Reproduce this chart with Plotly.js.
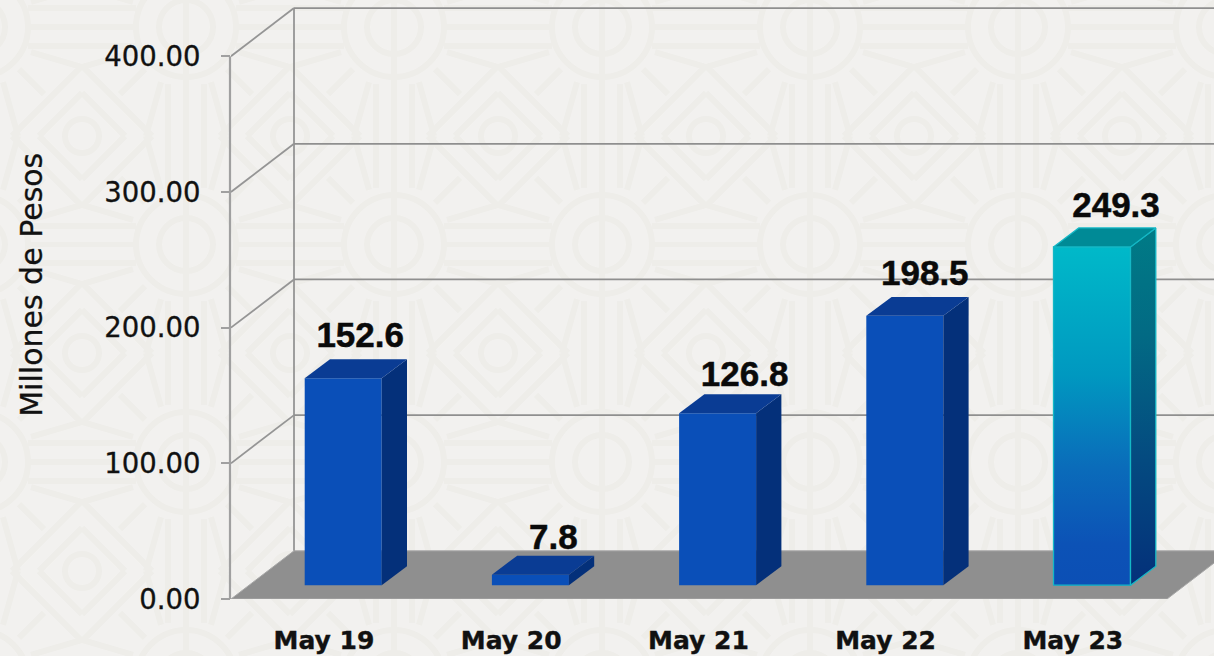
<!DOCTYPE html>
<html>
<head>
<meta charset="utf-8">
<script src="https://cdn.plot.ly/plotly-3.0.1.min.js"></script>
<style>
html,body{margin:0;padding:0;width:1214px;height:656px;overflow:hidden;background-color:#f2f1ef}
#chart{width:1214px;height:656px}
#chart .textpoint text{stroke:#0a0a0a;stroke-width:0.5px}
#chart .xtick text{stroke:#111111;stroke-width:0.4px}
#chart .ytick text{stroke:#111111;stroke-width:0.3px}
#chart .annotation-text{stroke:#111111;stroke-width:0.3px}
</style>
</head>
<body>
<div id="chart"></div>
<script>
// ---- data ----
var categories = ['May 19', 'May 20', 'May 21', 'May 22', 'May 23'];
var values = [152.6, 7.8, 126.8, 198.5, 249.3];
var yTicks = [0, 100, 200, 300, 400];
var yTitle = 'Millones de Pesos';

// ---- geometry, in axis units ----
var pxX = 187.2, pxY = 1.358;
var marginL = 231, plotW = 983, plotH = 599.5;
var xMin = -(324 - marginL) / pxX, xMax = xMin + plotW / pxX;
var wallDX = 63 / pxX, wallDY = 48.2 / pxY;
var barShift = 19.2 / pxX, barW = 77 / pxX, barBase = 13.8 / pxY;
var sideDX = 25.3 / pxX, sideDY = 19 / pxY;
var labelDX = [17, 23, 27, 20, 24], labelDY = [39.3, 35.6, 36.3, 39.3, 38.5];
var hero = 4;

// ---- background ornament ----
function ornament() {
  var W = 208, H = 217.5, out = [];
  function mirror(pts) {
    [[1,1],[-1,1],[1,-1],[-1,-1]].forEach(function (s) {
      var p = pts.map(function (q) {
        return (s[0] > 0 ? q[0] : W - q[0]) + ',' + (s[1] > 0 ? q[1] : H - q[1]);
      }).join(' ');
      out.push('<polyline points="' + p + '"/>');
    });
  }
  [[0,0],[W,0],[0,H],[W,H]].forEach(function (c) {
    out.push('<circle cx="' + c[0] + '" cy="' + c[1] + '" r="50"/>');
    out.push('<circle cx="' + c[0] + '" cy="' + c[1] + '" r="27"/>');
  });
  mirror([[0,0],[0,H/2]]);                 // central column
  mirror([[18,57],[18,H/2]]);              // column side lines
  mirror([[25,55],[40,H/2]]);              // slanted rays
  mirror([[50,0],[W/2,0]]);                // horizontal band
  mirror([[50,19],[W/2,19]]);
  mirror([[53,25],[W/2,40]]);              // V to diamond
  mirror([[41,42],[66,67]]);               // short diagonals
  mirror([[W/2-70,H/2],[W/2,H/2-70]]);     // outer diamond
  mirror([[W/2-43,H/2],[W/2,H/2-43]]);     // inner diamond
  var d = '<svg xmlns="http://www.w3.org/2000/svg" width="' + W + '" height="' + H + '">' +
    '<g fill="none" stroke="#eeede9" stroke-width="6">' + out.join('') +
    '<circle cx="' + W/2 + '" cy="' + H/2 + '" r="17"/></g></svg>';
  return 'url("data:image/svg+xml;utf8,' + encodeURIComponent(d) + '")';
}
document.body.style.backgroundImage = ornament();
document.body.style.backgroundPosition = '185.5px 27px';
document.body.style.backgroundSize = '208px 217.5px';

// ---- faces ----
function bx(i) { return i + barShift - barW / 2; }
function frontFace(i) {
  var a = bx(i), b = a + barW, y0 = barBase, y1 = barBase + values[i];
  return {x: [a, b, b, a, a], y: [y0, y0, y1, y1, y0]};
}
function sideFace(i) {
  var b = bx(i) + barW, y0 = barBase, y1 = barBase + values[i];
  return {x: [b, b + sideDX, b + sideDX, b, b], y: [y0, y0 + sideDY, y1 + sideDY, y1, y0]};
}
function topFace(i) {
  var a = bx(i), b = a + barW, y1 = barBase + values[i];
  return {x: [a, b, b + sideDX, a + sideDX, a], y: [y1, y1, y1 + sideDY, y1 + sideDY, y1]};
}
function poly(f, color, extra) {
  var t = {type: 'scatter', mode: 'lines', x: f.x, y: f.y, fill: 'toself', fillcolor: color,
    line: {width: 0, color: color}, hoverinfo: 'skip', showlegend: false};
  for (var k in extra) t[k] = extra[k];
  return t;
}

var traces = [{
  type: 'bar',
  x: categories.map(function (c, i) { return i + barShift; }),
  y: values,
  base: values.map(function () { return barBase; }),
  width: barW,
  marker: {color: '#0a4fb8', line: {width: 0}},
  showlegend: false,
  hoverinfo: 'skip'
}];
values.forEach(function (v, i) {
  if (i === hero) return;
  traces.push(poly(sideFace(i), '#04307a'));
  traces.push(poly(topFace(i), '#0a3c94'));
});
var edge = {width: 1.3, color: '#14b8c6'};
traces.push(poly(frontFace(hero), '#0a4fb8', {
  line: edge,
  fillgradient: {type: 'vertical',
    colorscale: [[0, '#0c4fb5'], [0.12, '#0c52b6'], [0.35, '#0a6cba'], [0.62, '#0098c0'], [1, '#00b9c9']]}
}));
traces.push(poly(sideFace(hero), '#04307a', {
  line: edge,
  fillgradient: {type: 'vertical',
    colorscale: [[0, '#04307a'], [0.35, '#044a80'], [0.7, '#026a84'], [1, '#007b86']]}
}));
traces.push(poly(topFace(hero), '#008a96', {line: edge}));
traces.push({
  type: 'scatter', mode: 'text',
  x: values.map(function (v, i) { return i + barShift + labelDX[i] / pxX; }),
  y: values.map(function (v, i) { return v + labelDY[i]; }),
  text: values.map(function (v) { return v.toFixed(1); }),
  textposition: 'middle center',
  textfont: {family: 'Liberation Sans', size: 35, color: '#0a0a0a', weight: 700},
  cliponaxis: false, hoverinfo: 'skip', showlegend: false
});

// ---- walls and floor ----
var shapes = [{
  type: 'path', layer: 'below', xref: 'x', yref: 'y',
  path: 'M' + xMin + ',0 L' + (xMin + 5) + ',0 L' + (xMin + 5 + wallDX) + ',' + wallDY +
        ' L' + (xMin + wallDX) + ',' + wallDY + ' Z',
  fillcolor: '#8f8f8f', line: {color: '#a8a8a8', width: 1}
}, {
  type: 'line', layer: 'below', xref: 'x', yref: 'y',
  x0: xMin + wallDX, x1: xMin + wallDX, y0: wallDY, y1: 400 + wallDY,
  line: {color: '#959595', width: 1.8}
}, {
  type: 'line', layer: 'below', xref: 'paper', yref: 'y',
  x0: -1 / plotW, x1: -1 / plotW, y0: -0.5, y1: 400,
  line: {color: '#a0a0a0', width: 2.2}
}];
yTicks.forEach(function (t) {
  if (t > 0) {
    shapes.push({type: 'line', layer: 'below', xref: 'x', yref: 'y',
      x0: xMin, x1: xMin + wallDX, y0: t, y1: t + wallDY,
      line: {color: '#959595', width: 1.8}});
    shapes.push({type: 'line', layer: 'below', xref: 'x', yref: 'y',
      x0: xMin + wallDX, x1: xMax, y0: t + wallDY, y1: t + wallDY,
      line: {color: '#8f8f8f', width: 1.8}});
  }
});

var layout = {
  width: 1214, height: 656,
  margin: {l: marginL, r: 0, t: 0, b: 656 - plotH, pad: 0},
  paper_bgcolor: 'rgba(0,0,0,0)',
  plot_bgcolor: 'rgba(0,0,0,0)',
  showlegend: false,
  xaxis: {
    range: [xMin, xMax], tickmode: 'array',
    tickvals: categories.map(function (c, i) { return i; }), ticktext: categories,
    showgrid: false, zeroline: false, showline: false, ticks: '',
    tickfont: {family: 'DejaVu Sans', size: 25, color: '#111111', weight: 700},
    ticklabelstandoff: 24
  },
  yaxis: {
    range: [0, plotH / pxY], tickmode: 'array', tickvals: yTicks,
    tickformat: '.2f', showgrid: false, zeroline: false, showline: false,
    ticks: 'outside', ticklen: 9, tickwidth: 2, tickcolor: '#a0a0a0',
    tickfont: {family: 'DejaVu Sans', size: 27.5, color: '#111111'},
    ticklabelstandoff: 15
  },
  shapes: shapes,
  annotations: [{
    text: yTitle, textangle: -90, showarrow: false,
    xref: 'paper', yref: 'paper', xanchor: 'center', yanchor: 'middle',
    x: (32 - marginL) / plotW, y: 1 - 285 / plotH,
    font: {family: 'DejaVu Sans', size: 30, color: '#111111'}
  }]
};
Plotly.newPlot('chart', traces, layout, {displayModeBar: false, staticPlot: true});
</script>
</body>
</html>
